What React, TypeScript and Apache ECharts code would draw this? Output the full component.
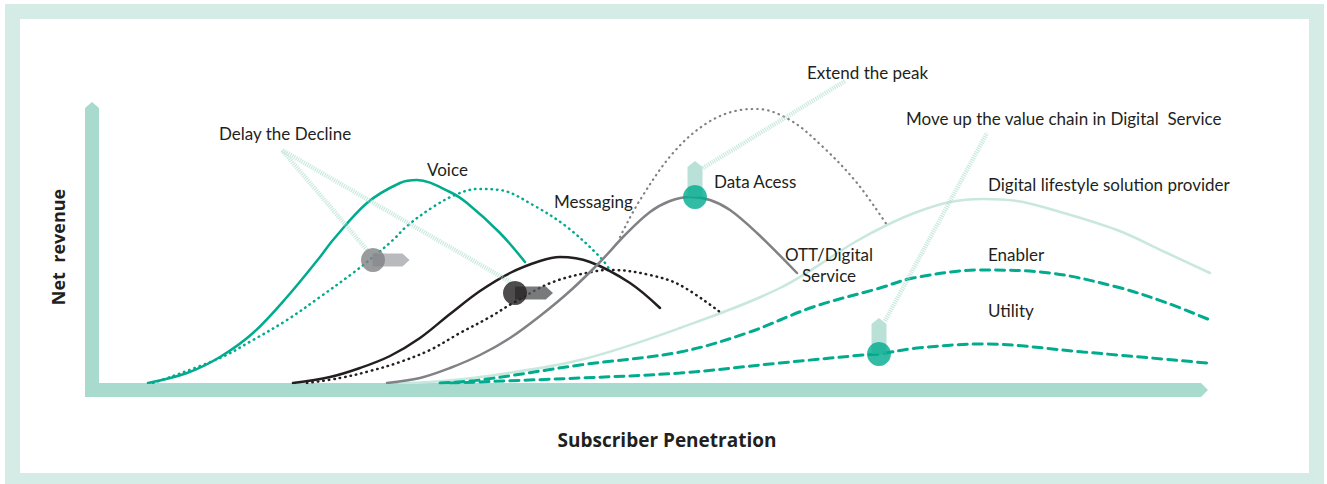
import React, { useEffect, useRef } from "react";
import * as echarts from "echarts";

// x: subscriber penetration (arbitrary units), y: net revenue (arbitrary units)
const voice = [[49,0],[88,10],[121,26],[154,50],[188,86],[221,126],[234,143],[268,180],[301,200],[318,203],[351,191],[368,180],[401,150],[426,121]];
const voiceDelayed = [[54,0],[121,25],[154,43],[188,63],[221,86],[254,110],[274,126],[294,143],[308,157],[334,176],[356,188],[378,194],[401,193],[434,178],[468,156],[501,126],[511,113]];
const messaging = [[194,0],[231,6],[261,15],[291,27],[321,45],[351,69],[381,92],[411,110],[441,122],[461,126],[491,121],[531,100],[561,75]];
const messagingDelayed = [[208,0],[241,5],[271,12],[301,21],[331,33],[361,50],[391,66],[414,80],[454,101],[498,112],[514,113],[551,108],[581,98],[621,71]];
const dataAccess = [[288,0],[321,5],[351,15],[381,28],[411,45],[441,67],[471,92],[501,121],[526,148],[551,171],[571,182],[591,186],[611,183],[631,173],[658,150],[698,110]];
const dataAccessExtended = [[521,146],[541,183],[574,230],[608,260],[641,273],[658,274],[691,263],[724,236],[758,200],[788,158]];
const lifestyle = [[301,0],[331,1],[381,6],[481,23],[581,55],[681,95],[756,141],[788,158],[818,171],[851,181],[884,184],[918,182],[951,174],[1018,153],[1068,130],[1111,110]];
const enabler = [[341,0],[381,3],[481,18],[581,31],[648,50],[714,76],[781,95],[814,105],[881,113],[951,110],[1018,96],[1068,80],[1111,63]];
const utility = [[351,0],[481,5],[581,10],[681,20],[764,28],[780,29],[818,35],[884,39],[984,31],[1108,20]];

const grayMarker = [274, 123];
const blackMarker = [416, 90];
const dataMarker = [596, 186];
const utilityMarker = [780, 29];

const delayCallout = [[268,133],[183,233],[413,100]];
const extendCallout = [[604,215],[746,302]];
const moveUpCallout = [[786,62],[888,250]];

const TEAL = "#00ab8e";
const MINT = "#a8dacd";
const FRAME = "#d4ece5";
const DARK = "#231f20";
const GRAY = "#808285";
const LIGHT = "#c8e8de";
const FONT = "Lato";

function lineSeries(name: string, data: number[][], color: string, width: number, type: any, z = 2) {
  return {
    name,
    type: "line",
    data,
    smooth: 0.35,
    showSymbol: false,
    silent: true,
    z,
    lineStyle: { color, width, type, cap: "round" },
  };
}

function label(text: string, x: number, y: number, extra: any = {}) {
  return {
    type: "text",
    x,
    y,
    z: 10,
    style: {
      text,
      fill: DARK,
      fontSize: 17,
      fontFamily: FONT,
      verticalAlign: "middle",
      align: "left",
      ...extra,
    },
  };
}

export default function App() {
  const ref = useRef<HTMLDivElement>(null);
  useEffect(() => {
    document.body.style.margin = "0";
    const chart = echarts.init(ref.current!, null, { renderer: "svg" });
    chart.setOption({
      animation: false,
      backgroundColor: "#ffffff",
      grid: { left: 99, top: 33, width: 1150, height: 350 },
      xAxis: { type: "value", min: 0, max: 1150, show: false },
      yAxis: { type: "value", min: 0, max: 350, show: false },
      graphic: [
        { type: "rect", z: 0, shape: { x: 5, y: 4, width: 1319, height: 15 }, style: { fill: FRAME } },
        { type: "rect", z: 0, shape: { x: 5, y: 473, width: 1319, height: 11 }, style: { fill: FRAME } },
        { type: "rect", z: 0, shape: { x: 5, y: 4, width: 15, height: 480 }, style: { fill: FRAME } },
        { type: "rect", z: 0, shape: { x: 1309, y: 4, width: 15, height: 480 }, style: { fill: FRAME } },
        {
          type: "polygon", z: 0,
          shape: { points: [[85, 108], [92, 102], [99, 108], [99, 397], [85, 397]] },
          style: { fill: MINT },
        },
        {
          type: "polygon", z: 0,
          shape: { points: [[85, 383], [1201, 383], [1208, 390], [1201, 397], [85, 397]] },
          style: { fill: MINT },
        },
        {
          type: "text", x: 58, y: 247, rotation: Math.PI / 2, z: 10,
          style: { text: "Net  revenue", fill: DARK, fontSize: 18, fontWeight: "bold", fontFamily: "Open Sans", align: "center", verticalAlign: "middle" },
        },
        {
          type: "text", x: 667, y: 440, z: 10,
          style: { text: "Subscriber Penetration", fill: DARK, fontSize: 19, fontWeight: "bold", fontFamily: "Open Sans", align: "center", verticalAlign: "middle" },
        },
        label("Delay the Decline", 219, 133),
        label("Voice", 427, 169),
        label("Messaging", 554, 201),
        label("Data Acess", 714, 181),
        label("OTT/Digital", 829, 254, { align: "center" }),
        label("Service", 829, 275, { align: "center" }),
        label("Extend the peak", 807, 72),
        label("Move up the value chain in Digital  Service", 906, 118),
        label("Digital lifestyle solution provider", 988, 184),
        label("Enabler", 988, 254),
        label("Utility", 988, 310),
      ],
      series: [
        lineSeries("Digital lifestyle solution provider", lifestyle, LIGHT, 2.5, "solid", 1),
        lineSeries("Enabler", enabler, TEAL, 3, [9, 6]),
        lineSeries("Utility", utility, TEAL, 3, [9, 6]),
        lineSeries("Voice", voice, TEAL, 2.5, "solid"),
        lineSeries("Voice (delayed)", voiceDelayed, TEAL, 2.5, [0.5, 5]),
        lineSeries("Messaging", messaging, DARK, 2.5, "solid"),
        lineSeries("Messaging (delayed)", messagingDelayed, DARK, 2.5, [0.5, 5]),
        lineSeries("Data Access", dataAccess, GRAY, 2.5, "solid"),
        lineSeries("Data Access (extended)", dataAccessExtended, GRAY, 2.2, [0.5, 5]),
        {
          type: "line", data: delayCallout, showSymbol: false, silent: true, z: 3,
          lineStyle: { color: MINT, width: 4.5, opacity: 0.6, type: [1.2, 1] },
        },
        {
          type: "line", data: extendCallout, showSymbol: false, silent: true, z: 3,
          lineStyle: { color: MINT, width: 4.5, opacity: 0.6, type: [1.2, 1] },
        },
        {
          type: "line", data: moveUpCallout, showSymbol: false, silent: true, z: 3,
          lineStyle: { color: MINT, width: 4.5, opacity: 0.6, type: [1.2, 1] },
        },
        {
          type: "scatter", silent: true, z: 4,
          symbol: "path://M0,0L30,0L37,6.5L30,13L0,13Z",
          symbolSize: [37, 13], symbolOffset: [18, 0],
          itemStyle: { color: "#a7a9ac" },
          data: [grayMarker],
        },
        {
          type: "scatter", silent: true, z: 4,
          symbol: "path://M0,0L30,0L37,6.5L30,13L0,13Z",
          symbolSize: [38, 13], symbolOffset: [19, 0],
          itemStyle: { color: "#58595b" },
          data: [blackMarker],
        },
        {
          type: "scatter", silent: true, z: 4,
          symbol: "path://M0,6L7,0L14,6L14,36L0,36Z",
          symbolSize: [15, 36], symbolOffset: [0, -18],
          itemStyle: { color: MINT },
          data: [dataMarker, utilityMarker],
        },
        {
          type: "scatter", silent: true, z: 5, symbol: "circle", symbolSize: 24,
          itemStyle: { color: GRAY }, data: [grayMarker],
        },
        {
          type: "scatter", silent: true, z: 5, symbol: "circle", symbolSize: 24,
          itemStyle: { color: DARK }, data: [blackMarker],
        },
        {
          type: "scatter", silent: true, z: 5, symbol: "circle", symbolSize: 24,
          itemStyle: { color: TEAL }, data: [dataMarker, utilityMarker],
        },
      ],
    });
    return () => chart.dispose();
  }, []);
  return <div ref={ref} style={{ width: 1327, height: 484 }} />;
}
